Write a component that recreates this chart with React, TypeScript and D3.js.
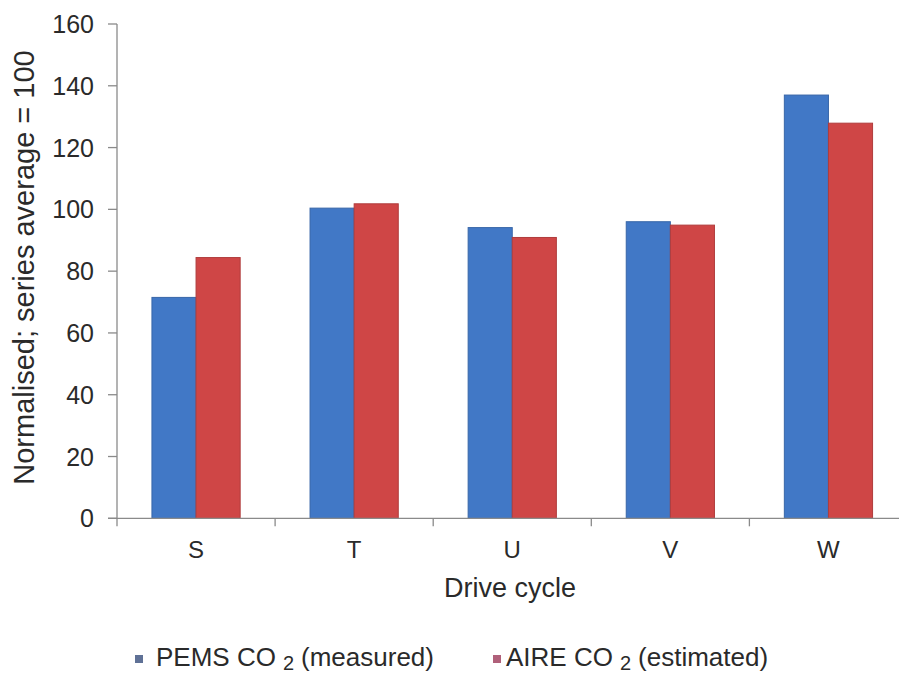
import React from "react";
import * as d3 from "d3";

const categories = ["S", "T", "U", "V", "W"];
const seriesNames = ["PEMS", "AIRE"];
const pemsValues = [71.5, 100.4, 94.1, 96.0, 137.0];
const aireValues = [84.4, 101.8, 90.9, 94.9, 127.9];
const yTicks = [0, 20, 40, 60, 80, 100, 120, 140, 160];

const W = 899;
const H = 674;
const FONT = "'Liberation Sans', Arial, sans-serif";
const TEXT = "#2a2a2a";

export default function App() {
  const x = d3.scaleBand<string>().domain(categories).range([117, 907.5]).padding(0);
  const bw = x.bandwidth();
  const pad = bw * 0.221;
  const xs = d3.scaleBand<string>().domain(seriesNames).range([pad, bw - pad]).padding(0);
  const y = d3.scaleLinear().domain([0, 160]).range([518.3, 24]);

  const fills: Record<string, string> = { PEMS: "#4178c6", AIRE: "#cf4646" };
  const strokes: Record<string, string> = { PEMS: "#3866a8", AIRE: "#b03c3c" };
  const valuesBy: Record<string, number[]> = { PEMS: pemsValues, AIRE: aireValues };

  const boundaries = categories.map((c) => x(c) as number);

  return (
    <svg width={W} height={H} style={{ position: "absolute", left: 0, top: 0, background: "#fff" }}>
      <rect x={0} y={0} width={W} height={H} fill="#fff" />
      {categories.map((c, i) =>
        seriesNames.map((s) => {
          const v = valuesBy[s][i];
          const bx = (x(c) as number) + (xs(s) as number);
          return (
            <rect
              key={c + s}
              x={bx}
              y={y(v)}
              width={xs.bandwidth()}
              height={y(0) - y(v)}
              fill={fills[s]}
              stroke={strokes[s]}
              strokeWidth={1}
            />
          );
        })
      )}
      <line x1={117} x2={117} y1={y(160)} y2={y(0)} stroke="#8a8a8a" strokeWidth={1.3} />
      {yTicks.map((t) => (
        <g key={t}>
          <line x1={108} x2={117} y1={y(t)} y2={y(t)} stroke="#8a8a8a" strokeWidth={1.3} />
          <text
            x={94}
            y={y(t)}
            textAnchor="end"
            dominantBaseline="central"
            fontFamily={FONT}
            fontSize={25}
            fill={TEXT}
          >
            {t}
          </text>
        </g>
      ))}
      <line x1={108} x2={W} y1={y(0)} y2={y(0)} stroke="#8a8a8a" strokeWidth={1.3} />
      {boundaries.map((b, i) => (
        <line key={i} x1={b} x2={b} y1={y(0)} y2={y(0) + 8} stroke="#8a8a8a" strokeWidth={1.3} />
      ))}
      {categories.map((c) => (
        <text
          key={c}
          x={(x(c) as number) + bw / 2}
          y={558}
          textAnchor="middle"
          fontFamily={FONT}
          fontSize={24}
          fill={TEXT}
        >
          {c}
        </text>
      ))}
      <text x={510} y={597} textAnchor="middle" fontFamily={FONT} fontSize={27} fill={TEXT}>
        Drive cycle
      </text>
      <text
        transform={`translate(34,267.5) rotate(-90)`}
        textAnchor="middle"
        fontFamily={FONT}
        fontSize={29}
        fill={TEXT}
      >
        Normalised; series average = 100
      </text>
      {/* legend */}
      <rect x={135} y={655} width={8} height={8} fill="#5f7196" />
      <text x={156} y={666} fontFamily={FONT} fontSize={26} fill={TEXT}>
        PEMS CO
        <tspan fontSize={20} dx={7} dy={4}>2</tspan>
        <tspan dx={7} dy={-4}>(measured)</tspan>
      </text>
      <rect x={493} y={655} width={8} height={8} fill="#b0607a" />
      <text x={506} y={666} fontFamily={FONT} fontSize={26} fill={TEXT}>
        AIRE CO
        <tspan fontSize={20} dx={7} dy={4}>2</tspan>
        <tspan dx={7} dy={-4}>(estimated)</tspan>
      </text>
    </svg>
  );
}
